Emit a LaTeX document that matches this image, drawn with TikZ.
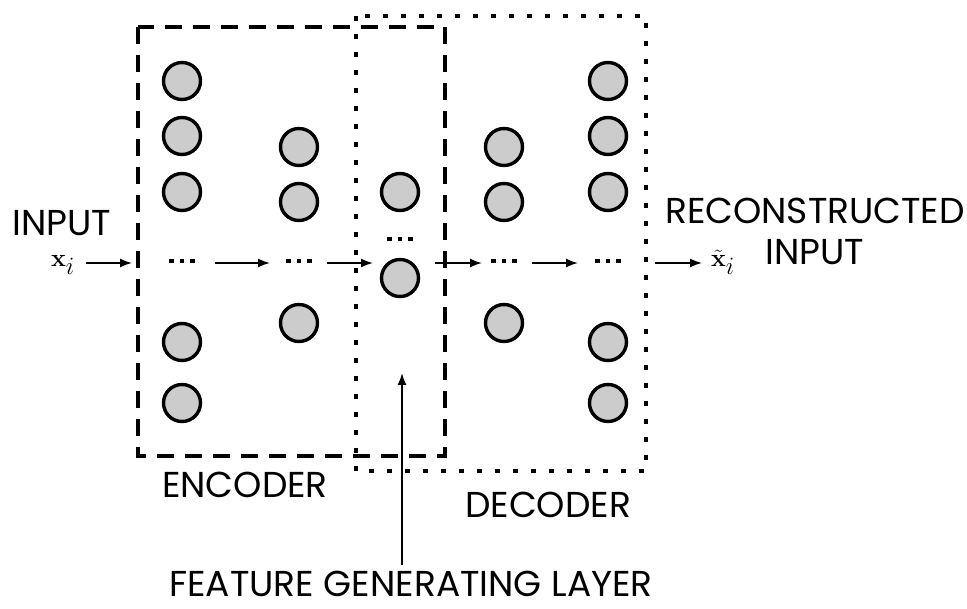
\documentclass[tikz,border=0pt]{standalone}
\usepackage[no-math]{fontspec}
\setmainfont{Poppins}
\usetikzlibrary{arrows.meta}
\definecolor{nodegray}{RGB}{204,204,204}
\newcommand{\sqdot}{\rule{4.5pt}{4.5pt}}
\newcommand{\mydots}{\sqdot\hspace{5.8pt}\sqdot\hspace{5.8pt}\sqdot}
\tikzset{
  neuron/.style={circle,draw=black,line width=3.4pt,fill=nodegray,minimum size=37pt,inner sep=0pt},
  lbl/.style={inner sep=0pt,font=\fontsize{36}{42}\selectfont},
  mathlbl/.style={inner sep=0pt,font=\fontsize{34}{38}\selectfont},
  dotsnode/.style={inner sep=0pt},
  flow/.style={line width=1.6pt,-{Latex[length=12pt,width=9pt]}},
  encbox/.style={draw,line width=3.2pt,dash pattern=on 17pt off 11pt},
  decbox/.style={draw,line width=3.2pt,dash pattern=on 5pt off 13pt},
}
\begin{document}
\begin{tikzpicture}[x=1pt,y=-1pt]
\useasboundingbox (0,0) rectangle (967,609);
% boxes
\draw[encbox] (138,27) rectangle (445,456);
\draw[decbox] (356,16) rectangle (646,471);
% neurons
\foreach \y [count=\i] in {81,136,192,342,403} \node[neuron] (a\i) at (182,\y) {};
\foreach \y [count=\i] in {147,202,323} \node[neuron] (b\i) at (299,\y) {};
\node[neuron] (c1) at (400,192) {};
\node[neuron] (c2) at (400,278) {};
\foreach \y [count=\i] in {147,202,323} \node[neuron] (d\i) at (504,\y) {};
\foreach \y [count=\i] in {81,136,192,342,403} \node[neuron] (e\i) at (608,\y) {};
% dots
\node[dotsnode] (da) at (182,261) {\mydots};
\node[dotsnode] (db) at (299,261) {\mydots};
\node[dotsnode] (dc) at (400,239) {\mydots};
\node[dotsnode] (dd) at (504,261) {\mydots};
\node[dotsnode] (de) at (608,261) {\mydots};
% labels
\node[lbl] (inp) at (62,223) {INPUT};
\node[mathlbl] (xi) at (63,265) {$\mathbf{x}_i$};
\node[mathlbl] (xt) at (723,262) {$\tilde{\mathbf{x}}_i$};
\node[lbl] (rec) at (815,211) {RECONSTRUCTED};
\node[lbl] (rinp) at (815,252) {INPUT};
\node[lbl] (enc) at (245,485) {ENCODER};
\node[lbl] (dec) at (548,505) {DECODER};
\node[lbl] (fgl) at (411,584) {FEATURE GENERATING LAYER};
\coordinate (fgltop) at (402,565);
\coordinate (fglend) at (402,373);
% connector endpoints
\coordinate (p0) at (86,263);  \coordinate (q0) at (132,263);
\coordinate (p1) at (215,263); \coordinate (q1) at (270,263);
\coordinate (p2) at (327,263); \coordinate (q2) at (373,263);
\coordinate (p3) at (435,263); \coordinate (q3) at (482,263);
\coordinate (p4) at (532,263); \coordinate (q4) at (578,263);
\coordinate (p5) at (655,263); \coordinate (q5) at (702,263);
\foreach \k in {0,...,5} \draw[flow] (p\k) -- (q\k);
\draw[flow] (fgltop) -- (fglend);
\end{tikzpicture}
\end{document}
